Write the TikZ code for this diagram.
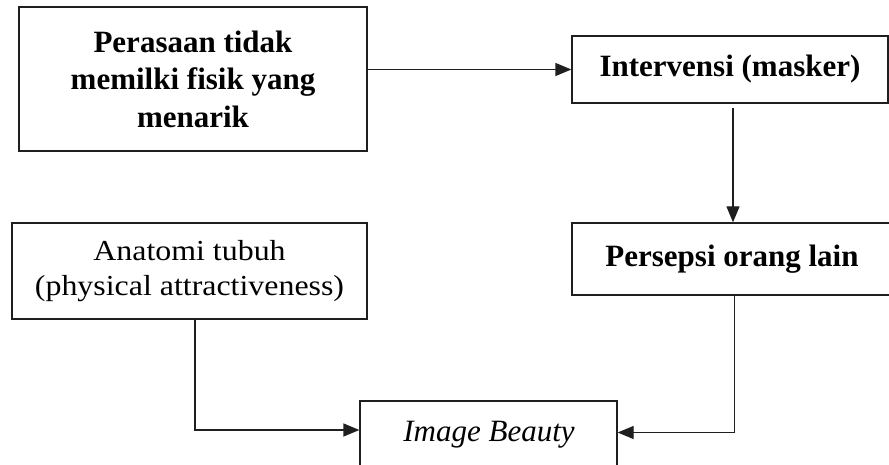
\documentclass[tikz,border=0pt]{standalone}
\usepackage{fontspec}
\setmainfont{Liberation Serif}
\usetikzlibrary{arrows.meta,calc}
\begin{document}
\begin{tikzpicture}[x=1pt,y=-1pt,
  box/.style={draw=black!88,line width=1.3pt,rectangle,inner sep=0pt,align=center},
  bfont/.style={font=\fontsize{31}{37.5}\selectfont\bfseries},
  conn/.style={draw=black!88,line width=1.3pt},
  arr/.style={conn,-{Triangle[length=16pt,width=13pt]}}]
\clip (0,0) rectangle (889,465);
\fill[white] (0,0) rectangle (889,465);
\node[box,bfont,minimum width=348pt,minimum height=144pt] (b1) at (193,79)
  {Perasaan tidak\\memilki fisik yang\\menarik};
\node[box,bfont,minimum width=316pt,minimum height=67pt] (b2) at (730,69.5)
  {Intervensi (masker)};
\node[box,bfont,minimum width=320pt,minimum height=72pt] (b3) at (732,259)
  {Persepsi orang lain};
\node[box,minimum width=355pt,minimum height=96pt,font=\fontsize{29}{35}\selectfont] (b4) at (189.5,271)
  {\scalebox{1.1}[1]{Anatomi tubuh}\\\scalebox{1.1}[1]{(physical attractiveness)}};
\node[box,minimum width=257pt,minimum height=74pt] (b5) at (488.5,438) {};
\node[anchor=base,inner sep=0pt,font=\fontsize{31}{37}\selectfont\itshape] (t5) at (489,441.7) {Image Beauty};
\draw[arr] (b1.east |- b2.west) -- (b2.west);
\draw[arr,shorten <=4pt] ([xshift=3pt]b2.south) -- ([xshift=3pt]b2.south |- b3.north);
\draw[arr] ([xshift=2.7pt]b3.south) |- ([yshift=5.5pt]b5.east);
\draw[arr] ([xshift=5.5pt]b4.south) |- ([yshift=8pt]b5.west);
\end{tikzpicture}
\end{document}
